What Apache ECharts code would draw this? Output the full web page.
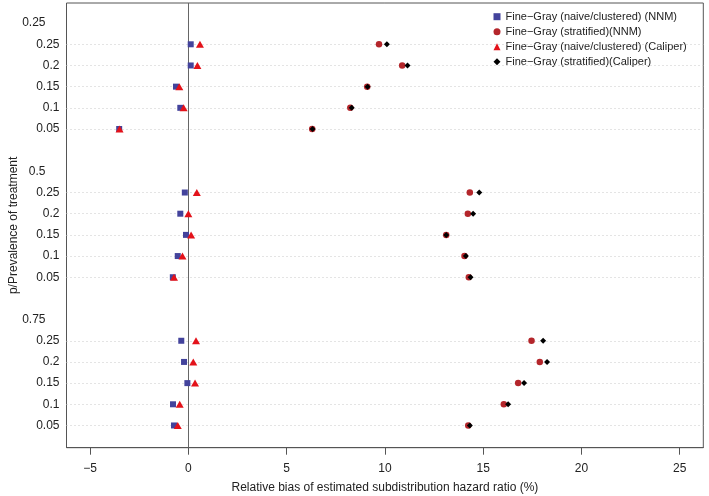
<!DOCTYPE html>
<html>
<head>
<meta charset="utf-8">
<script src="https://cdn.jsdelivr.net/npm/echarts@6/dist/echarts.min.js"></script>
<style>
html,body{margin:0;padding:0;background:#fff;}
#chart{width:709px;height:496px;}
</style>
</head>
<body>
<div id="chart"></div>
<script>
// ---- data ----
const groupLabels = ['0.25', '0.5', '0.75'];           // prevalence of treatment (group headers)
const rowLabels = ['0.25', '0.2', '0.15', '0.1', '0.05']; // p within each group
const xTicks = [-5, 0, 5, 10, 15, 20, 25];
const seriesNames = [
  'Fine\u2212Gray (naive/clustered) (NNM)',
  'Fine\u2212Gray (stratified)(NNM)',
  'Fine\u2212Gray (naive/clustered) (Caliper)',
  'Fine\u2212Gray (stratified)(Caliper)'
];
// values ordered group by group, rows 0.25..0.05
const naiveNNM = [0.12, 0.12, -0.63, -0.41, -3.52, -0.18, -0.41, -0.12, -0.54, -0.79, -0.36, -0.22, -0.05, -0.78, -0.73];
const stratNNM = [9.70, 10.88, 9.10, 8.24, 6.30, 14.32, 14.22, 13.12, 14.05, 14.27, 17.46, 17.88, 16.78, 16.05, 14.24];
const naiveCal = [0.59, 0.46, -0.46, -0.24, -3.50, 0.43, 0.00, 0.14, -0.30, -0.73, 0.39, 0.25, 0.34, -0.44, -0.54];
const stratCal = [10.10, 11.15, 9.12, 8.31, 6.32, 14.80, 14.49, 13.12, 14.12, 14.36, 18.05, 18.25, 17.08, 16.27, 14.32];

// ---- layout of y slots: header, rows, blank ----
const slot = rowLabels.length + 2;
const labelMap = {};
const rowPos = [];
groupLabels.forEach((g, gi) => {
  labelMap[gi * slot] = '{h|' + g + '}';
  rowLabels.forEach((r, ri) => {
    const p = gi * slot + 1 + ri;
    labelMap[p] = r;
    rowPos.push(p);
  });
});
const labelPos = Object.keys(labelMap).map(Number);
const toPts = arr => arr.map((v, i) => [v, rowPos[i]]);

const FONT = 'Liberation Sans';
const chart = echarts.init(document.getElementById('chart'));
const mk = (name, data, symbol, size, color) => ({
  name, type: 'scatter', data: toPts(data), symbol, symbolSize: size,
  itemStyle: { color, opacity: 1 }, z: 5, silent: true
});

chart.setOption({
  animation: false,
  backgroundColor: '#fff',
  textStyle: { fontFamily: FONT },
  grid: { left: 66.5, right: 5.7, top: 3, bottom: 48.3, show: true, borderColor: '#555', borderWidth: 1,
    backgroundColor: 'transparent', containLabel: false, outerBoundsMode: 'none' },
  legend: {
    orient: 'vertical', left: 489.5, top: 5.2, padding: 4,
    backgroundColor: '#fff', itemWidth: 7, itemHeight: 7, itemGap: 0,
    textStyle: { fontSize: 11, color: '#222', fontFamily: FONT, lineHeight: 15 },
    data: [
      { name: seriesNames[0], icon: 'rect' },
      { name: seriesNames[1], icon: 'circle' },
      { name: seriesNames[2], icon: 'triangle' },
      { name: seriesNames[3], icon: 'diamond' }
    ],
    selectedMode: false
  },
  xAxis: {
    type: 'value', min: -6.2, max: 26.2, position: 'bottom',
    name: 'Relative bias of estimated subdistribution hazard ratio (%)',
    nameLocation: 'middle', nameGap: 34, nameMoveOverlap: false,
    nameTextStyle: { fontSize: 12, color: '#222', fontFamily: FONT },
    axisLine: { show: true, onZero: false, lineStyle: { color: '#555', width: 1 } },
    axisTick: { show: true, inside: false, length: 7, lineStyle: { color: '#555', width: 1 }, customValues: xTicks },
    axisLabel: { fontSize: 12, color: '#222', margin: 15, customValues: xTicks,
      formatter: v => String(v).replace('-', '\u2212') },
    splitLine: { show: false }
  },
  yAxis: {
    type: 'value', inverse: true, min: -0.95, max: 20.05, position: 'left',
    name: 'p/Prevalence of treatment', nameLocation: 'middle', nameGap: 47, nameRotate: 90,
    nameMoveOverlap: false,
    nameTextStyle: { fontSize: 12, color: '#222', fontFamily: FONT },
    axisLine: { show: false, onZero: false },
    axisTick: { show: false, customValues: labelPos },
    axisLabel: { fontSize: 12, color: '#222', margin: 7, customValues: labelPos,
      formatter: v => labelMap[Math.round(v)] || '',
      rich: { h: { fontSize: 12, color: '#222', padding: [0, 14, 0, 0], fontFamily: FONT } } },
    splitLine: { show: false }
  },
  series: [
    {
      type: 'scatter', data: [], silent: true, z: 1,
      markLine: {
        silent: true, symbol: 'none', label: { show: false }, animation: false,
        lineStyle: { type: [1, 3], color: '#c8c8c8', width: 1 },
        data: rowPos.map(p => ({ yAxis: p }))
      }
    },
    {
      type: 'scatter', data: [], silent: true, z: 2,
      markLine: {
        silent: true, symbol: 'none', label: { show: false }, animation: false,
        lineStyle: { type: 'solid', color: '#666', width: 1 },
        data: [{ xAxis: 0 }]
      }
    },
    mk(seriesNames[0], naiveNNM, 'rect', 6, '#43439c'),
    mk(seriesNames[1], stratNNM, 'circle', 6.5, '#b4262b'),
    mk(seriesNames[2], naiveCal, 'triangle', [8, 7], '#e3121a'),
    mk(seriesNames[3], stratCal, 'diamond', 6, '#000')
  ]
});
</script>
</body>
</html>
